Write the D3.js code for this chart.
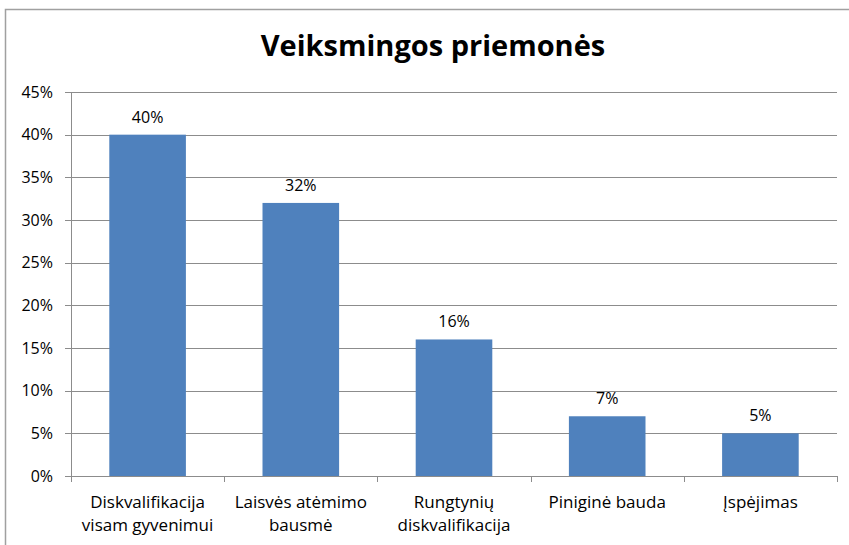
<!DOCTYPE html>
<html>
<head>
<meta charset="utf-8">
<script src="https://cdn.jsdelivr.net/npm/d3@7"></script>
<style>
  body { margin: 0; background: #fff; }
  svg { font-family: "Open Sans", "Noto Sans", sans-serif; }
</style>
</head>
<body>
<svg id="chart" width="849" height="545"></svg>
<script>
const categories = [
  ["Diskvalifikacija", "visam gyvenimui"],
  ["Laisvės atėmimo", "bausmė"],
  ["Rungtynių", "diskvalifikacija"],
  ["Piniginė bauda"],
  ["Įspėjimas"]
];
const values = [40, 32, 16, 7, 5];
const yTicks = [0, 5, 10, 15, 20, 25, 30, 35, 40, 45];
const title = "Veiksmingos priemonės";

const svg = d3.select('#chart');
const plotLeft = 71, plotRight = 837, plotTop = 92, plotBottom = 476;

// outer frame
svg.append('rect')
  .attr('x', 5.5).attr('y', 9.5)
  .attr('width', 900).attr('height', 600)
  .attr('fill', 'none').attr('stroke', '#a0a0a0').attr('stroke-width', 1.5);

const xScale = d3.scaleBand()
  .domain(d3.range(categories.length))
  .range([plotLeft, plotRight])
  .paddingInner(0.5).paddingOuter(0.25);

const yScale = d3.scaleLinear()
  .domain([0, 45])
  .range([plotBottom, plotTop]);

// gridlines
svg.append('g')
  .selectAll('line')
  .data(yTicks.filter(d => d > 0))
  .join('line')
  .attr('x1', plotLeft - 6).attr('x2', plotRight)
  .attr('y1', d => Math.round(yScale(d)) + 0.5)
  .attr('y2', d => Math.round(yScale(d)) + 0.5)
  .attr('stroke', '#8c8c8c').attr('stroke-width', 1);

// y axis line
svg.append('line')
  .attr('x1', plotLeft + 0.5).attr('x2', plotLeft + 0.5)
  .attr('y1', plotTop).attr('y2', plotBottom)
  .attr('stroke', '#8c8c8c');

// y tick labels
svg.append('g')
  .selectAll('text')
  .data(yTicks)
  .join('text')
  .attr('x', plotLeft - 18)
  .attr('y', d => yScale(d))
  .attr('dy', '0.36em')
  .attr('text-anchor', 'end')
  .style('font-size', '16px')
  .text(d => d + '%');

// bars
svg.append('g')
  .selectAll('rect')
  .data(values)
  .join('rect')
  .attr('x', (d, i) => xScale(i))
  .attr('y', d => yScale(d))
  .attr('width', xScale.bandwidth())
  .attr('height', d => plotBottom - yScale(d))
  .attr('fill', '#4f81bd');

// value labels
svg.append('g')
  .selectAll('text')
  .data(values)
  .join('text')
  .attr('x', (d, i) => xScale(i) + xScale.bandwidth() / 2)
  .attr('y', d => yScale(d) - 12)
  .attr('text-anchor', 'middle')
  .style('font-size', '16px')
  .text(d => d + '%');

// x axis line and ticks
svg.append('line')
  .attr('x1', plotLeft - 6).attr('x2', plotRight)
  .attr('y1', plotBottom + 0.5).attr('y2', plotBottom + 0.5)
  .attr('stroke', '#8c8c8c');

const step = (plotRight - plotLeft) / categories.length;
svg.append('g')
  .selectAll('line')
  .data(d3.range(categories.length + 1))
  .join('line')
  .attr('x1', d => Math.round(plotLeft + d * step) + 0.5)
  .attr('x2', d => Math.round(plotLeft + d * step) + 0.5)
  .attr('y1', plotBottom).attr('y2', plotBottom + 6)
  .attr('stroke', '#8c8c8c');

// category labels
const cat = svg.append('g')
  .selectAll('text')
  .data(categories)
  .join('text')
  .attr('x', (d, i) => xScale(i) + xScale.bandwidth() / 2)
  .attr('y', 508)
  .attr('text-anchor', 'middle')
  .style('font-size', '17px');
cat.selectAll('tspan')
  .data(d => d)
  .join('tspan')
  .attr('x', function () { return this.parentNode.getAttribute('x'); })
  .attr('dy', (d, i) => i === 0 ? 0 : 23)
  .text(d => d);

// title
svg.append('text')
  .attr('x', 433).attr('y', 56)
  .attr('text-anchor', 'middle')
  .style('font-size', '29px')
  .style('font-weight', 'bold')
  .text(title);
</script>
</body>
</html>
